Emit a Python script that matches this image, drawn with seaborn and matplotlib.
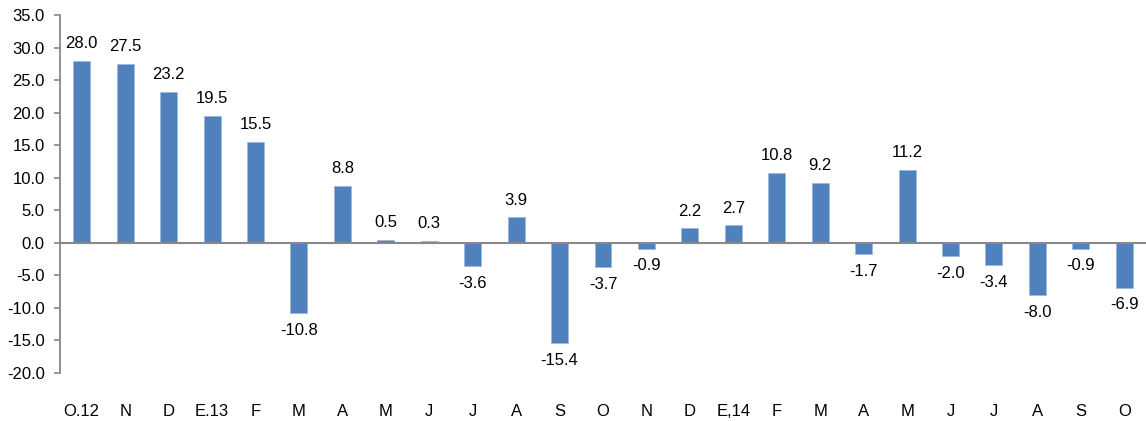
import matplotlib
matplotlib.use("Agg")
import matplotlib.pyplot as plt
import seaborn as sns
import pandas as pd

# month labels (repeated names, so bars are placed by position)
months = ["O.12", "N", "D", "E.13", "F", "M", "A", "M", "J", "J", "A", "S", "O",
          "N", "D", "E,14", "F", "M", "A", "M", "J", "J", "A", "S", "O"]
values = [28.0, 27.5, 23.2, 19.5, 15.5, -10.8, 8.8, 0.5, 0.3, -3.6, 3.9, -15.4, -3.7,
          -0.9, 2.2, 2.7, 10.8, 9.2, -1.7, 11.2, -2.0, -3.4, -8.0, -0.9, -6.9]
y_ticks = [-20, -15, -10, -5, 0, 5, 10, 15, 20, 25, 30, 35]

df = pd.DataFrame({"pos": range(len(values)), "value": values})

sns.set_style("white")
plt.rcParams["font.family"] = ["Liberation Sans", "DejaVu Sans"]
plt.rcParams["text.color"] = "black"
plt.rcParams["xtick.color"] = "black"
plt.rcParams["ytick.color"] = "black"

fig = plt.figure(figsize=(11.46, 4.21), dpi=100)
ax = fig.add_axes([60 / 1146, 1 - 373 / 421, 1 - 60 / 1146, (373 - 15) / 421])

sns.barplot(data=df, x="pos", y="value", color="#4F81BD", saturation=1,
            width=0.39, edgecolor="#9DB9DE", linewidth=0.6, ax=ax)

ax.set_xlim(-0.5, len(values) - 0.5)
ax.set_ylim(-20, 35)
ax.set_yticks(y_ticks)
ax.set_yticklabels([f"{t:.1f}" for t in y_ticks], fontsize=12)
ax.set_xticks(range(len(months)))
ax.set_xticklabels(months, fontsize=12)
ax.tick_params(axis="x", length=0, pad=22)
ax.tick_params(axis="y", length=4, width=1.2, color="#888888", direction="out",
               pad=7, left=True, labelcolor="black")
ax.set_xlabel("")
ax.set_ylabel("")

for s in ["top", "right", "bottom"]:
    ax.spines[s].set_visible(False)
ax.spines["left"].set_color("#888888")
ax.spines["left"].set_linewidth(1.3)
ax.axhline(0, color="#888888", linewidth=1.5, zorder=3)

for i, v in enumerate(values):
    off = 7 if v >= 0 else -7
    ax.annotate(f"{v:.1f}", (i, v), xytext=(0, off), textcoords="offset points",
                ha="center", va="bottom" if v >= 0 else "top", fontsize=12)

fig.savefig("out.png", dpi=100)
